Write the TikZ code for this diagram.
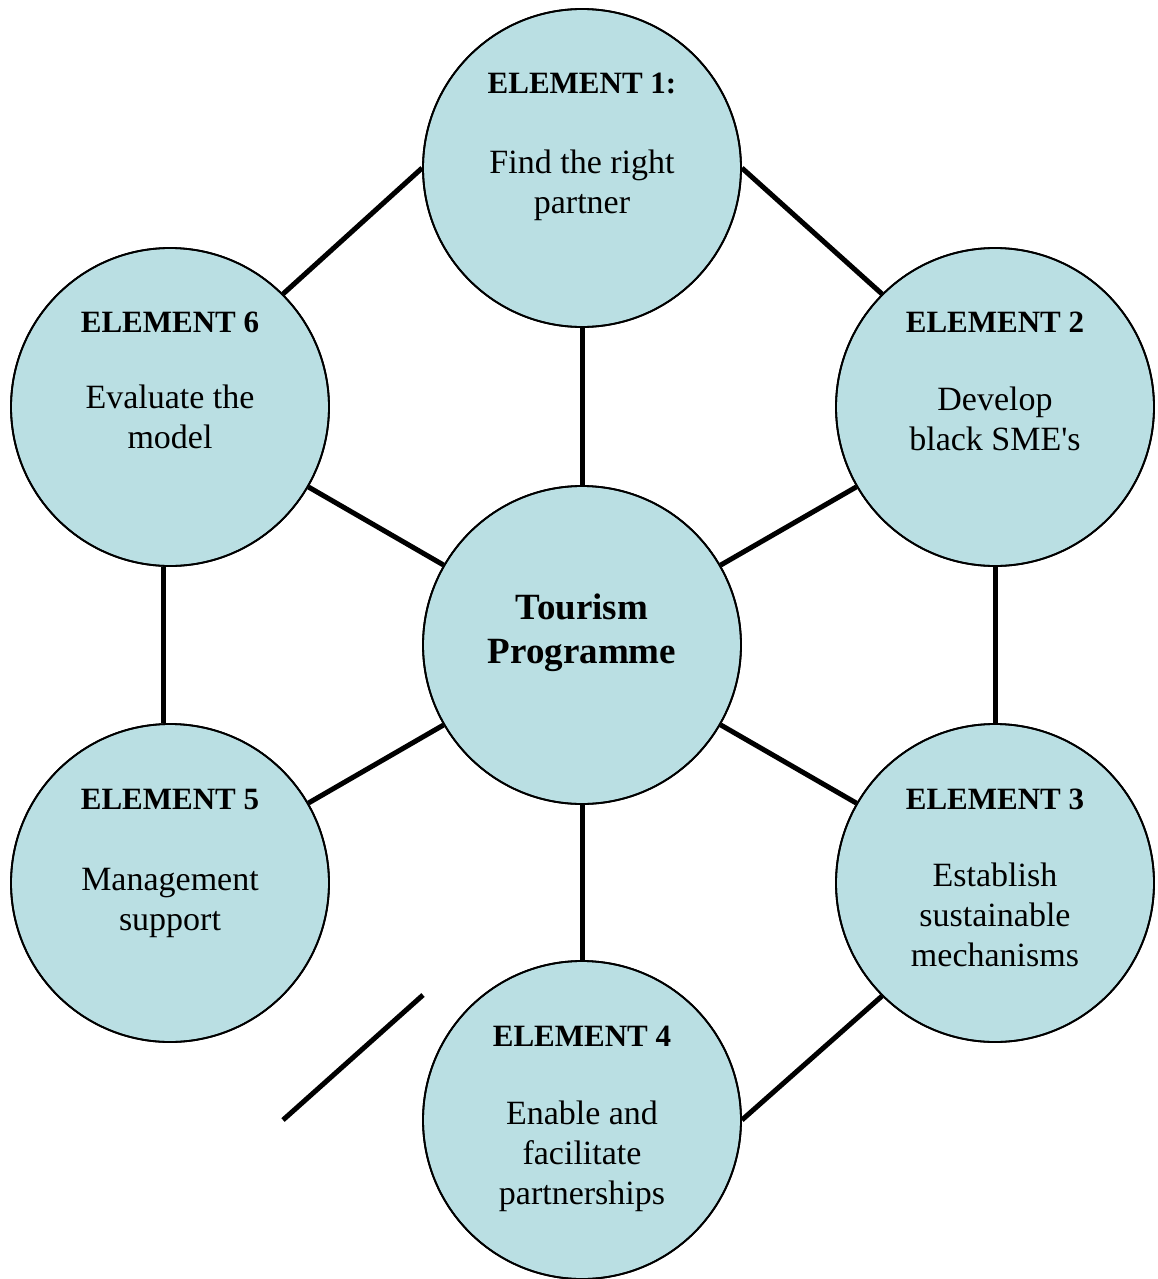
\documentclass[tikz,border=0pt]{standalone}
\usepackage{fontspec}
\setmainfont{Liberation Serif}[Ligatures=TeXOff]
\definecolor{circfill}{HTML}{BADFE3}
\begin{document}
\begin{tikzpicture}[x=1pt,y=-1pt,
  elem/.style={circle,draw=black,line width=1.8pt,fill=circfill,minimum size=318pt,inner sep=0pt},
  head/.style={anchor=base,inner sep=0pt,font=\fontsize{31}{36}\selectfont\bfseries},
  body/.style={anchor=base,inner sep=0pt,align=center,font=\fontsize{34}{40}\selectfont},
  mid/.style={anchor=base,inner sep=0pt,align=center,font=\fontsize{37}{44}\selectfont\bfseries},
  conn/.style={line width=5pt}]
\useasboundingbox (0,0) rectangle (1157,1279);
% circles
\node[elem] (e1) at (582,168) {};
\node[elem] (e2) at (995,407) {};
\node[elem] (e3) at (995,883) {};
\node[elem] (e4) at (582,1120) {};
\node[elem] (e5) at (170,883) {};
\node[elem] (e6) at (170,407) {};
\node[elem] (c) at (582,645) {};
% connectors
\draw[conn] (e1.west) -- (e6.45);
\draw[conn] (e1.east) -- (e2.135);
\draw[conn] (e1.south) -- (c.north);
\draw[conn] (e6) -- (c);
\draw[conn] (e2) -- (c);
\draw[conn] (e5) -- (c);
\draw[conn] (e3) -- (c);
\draw[conn] ([xshift=-7pt]e6.south) -- ([xshift=-7pt]e5.north);
\draw[conn] (e2.south) -- (e3.north);
\draw[conn] (c.south) -- (e4.north);
\draw[conn] (e3.225) -- (e4.east);
\coordinate (s1) at (423,995);
\coordinate (s2) at (283,1120);
\draw[conn] (s1) -- (s2);
% redraw circles on top of connector ends
\foreach \n in {e1,e2,e3,e4,e5,e6,c}{\draw[line width=1.8pt] (\n) circle (159pt);}
% texts (multi-line nodes: base = last line's baseline)
\node[head] (h1) at (582,94) {ELEMENT 1:};
\node[body] (b1) at (582,213) {Find the right\\partner};
\node[head] (h2) at (995,332) {ELEMENT 2};
\node[body] (b2) at (995,450) {Develop\\black SME's};
\node[head] (h3) at (995,809) {ELEMENT 3};
\node[body] (b3) at (995,966) {Establish\\sustainable\\mechanisms};
\node[head] (h4) at (582,1046) {ELEMENT 4};
\node[body] (b4) at (582,1204) {Enable and\\facilitate\\partnerships};
\node[head] (h5) at (170,809) {ELEMENT 5};
\node[body] (b5) at (170,930) {Management\\support};
\node[head] (h6) at (170,332) {ELEMENT 6};
\node[body] (b6) at (170,448) {Evaluate the\\model};
\node[mid] (t) at (582,663) {Tourism\\Programme};
\end{tikzpicture}
\end{document}
